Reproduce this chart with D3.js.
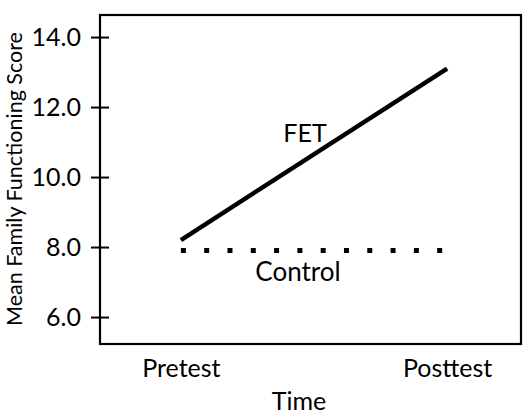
<!DOCTYPE html>
<html>
<head>
<meta charset="utf-8">
<script src="https://cdn.jsdelivr.net/npm/d3@7"></script>
<style>
  html, body { margin: 0; padding: 0; background: #fff; }
  svg { display: block; }
  text { font-family: Lato, "Open Sans", sans-serif; fill: #000; }
</style>
</head>
<body>
<svg id="chart" width="523" height="416"></svg>
<script>
const categories = ["Pretest", "Posttest"];
const fetValues = [8.2, 13.1];
const controlValues = [7.9, 7.9];
const yTicks = [6, 8, 10, 12, 14];
const seriesLabels = ["FET", "Control"];
const xTitle = "Time";
const yTitle = "Mean Family Functioning Score";

const svg = d3.select("#chart");
const L = 100, R = 521, T = 15, B = 344;

const x = d3.scalePoint().domain(categories).range([101, 527]).padding(0.3);
const y = d3.scaleLinear().domain([5.23, 14.63]).range([B, T]);

// frame
svg.append("rect")
  .attr("x", L).attr("y", T).attr("width", R - L).attr("height", B - T)
  .attr("fill", "none").attr("stroke", "#000").attr("stroke-width", 2.2);

// y axis ticks crossing the axis
const yAxis = d3.axisLeft(y).tickValues(yTicks).tickFormat(d3.format(".1f"))
  .tickSizeInner(-9).tickSizeOuter(0).tickPadding(19);
const gy = svg.append("g").attr("transform", `translate(${L},0)`).call(yAxis);
gy.select(".domain").remove();
gy.selectAll(".tick line").attr("x1", -9).attr("x2", 9).attr("stroke", "#000").attr("stroke-width", 2);
gy.selectAll(".tick text").attr("x", -19).attr("font-size", 25).attr("font-family", "Lato, sans-serif").attr("fill", "#000");

// x axis labels
const xAxis = d3.axisBottom(x).tickSize(0).tickPadding(0);
const gx = svg.append("g").attr("transform", `translate(0,${B})`).call(xAxis);
gx.select(".domain").remove();
gx.selectAll(".tick text").attr("y", 33).attr("dy", 0).attr("font-size", 25).attr("font-family", "Lato, sans-serif").attr("fill", "#000");

// titles
svg.append("text").attr("x", 299).attr("y", 410).attr("text-anchor", "middle")
  .attr("font-size", 25).text(xTitle);
svg.append("text").attr("transform", "translate(22,179) rotate(-90)")
  .attr("text-anchor", "middle").attr("font-size", 21.5).text(yTitle);

// lines
const line = d3.line().x((d, i) => x(categories[i])).y(d => y(d));
svg.append("path").datum(fetValues).attr("d", line)
  .attr("fill", "none").attr("stroke", "#000").attr("stroke-width", 4.5);
svg.append("path").datum(controlValues).attr("d", line)
  .attr("fill", "none").attr("stroke", "#000").attr("stroke-width", 5)
  .attr("stroke-dasharray", "5 18.3");

// series labels
svg.append("text").attr("x", 305).attr("y", 142).attr("text-anchor", "middle")
  .attr("font-size", 25).text(seriesLabels[0]);
svg.append("text").attr("x", 298).attr("y", 281).attr("text-anchor", "middle")
  .attr("font-size", 26).text(seriesLabels[1]);
</script>
</body>
</html>
